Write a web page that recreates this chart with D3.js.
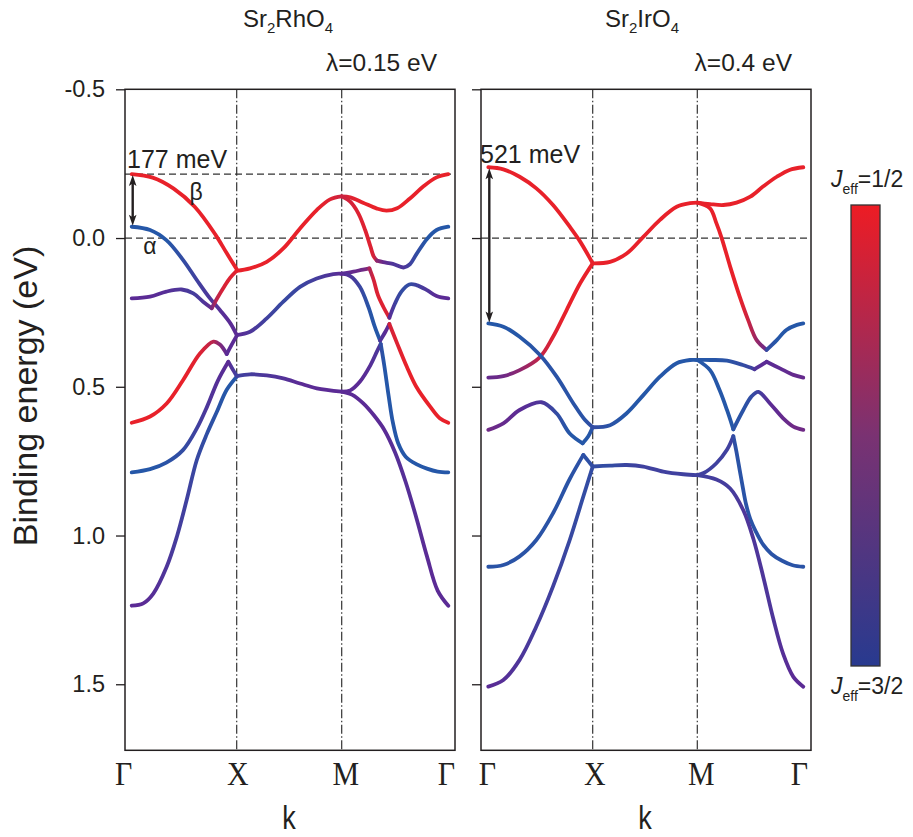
<!DOCTYPE html>
<html><head><meta charset="utf-8">
<script src="https://cdn.jsdelivr.net/npm/d3@7"></script>
<style>body{margin:0;background:#fff}</style>
</head><body><svg id="c" width="913" height="837"></svg>
<script>
// ================= DATA =================
// k path: Γ(0) → X(1) → M(2) → Γ(3); each point = [k, binding energy (eV), J_eff=1/2 weight]
const kPoints = [0, 1, 2, 3];
const kLabels = ["Γ", "X", "M", "Γ"];
const yTicks = [-0.5, 0.0, 0.5, 1.0, 1.5];

// ---- Sr2RhO4 (λ = 0.15 eV) ----
const rh1  = [[0,-0.215,1],[0.2,-0.203,1],[0.4,-0.166,1],[0.6,-0.105,1],[0.8,-0.01,1],[0.9,0.048,1],[1,0.105,1]];
const rh2  = [[0,-0.038,0.05],[0.175,-0.027,0.06],[0.33,0.007,0.1],[0.49,0.074,0.15],[0.62,0.141,0.2],[0.746,0.203,0.25],[0.84,0.242,0.28],[0.94,0.287,0.3],[1,0.326,0.3]];
const rh3  = [[0,0.203,0.3],[0.175,0.197,0.3],[0.33,0.18,0.28],[0.476,0.173,0.25],[0.587,0.186,0.22],[0.68,0.214,0.25],[0.762,0.236,0.35]];
const rh4  = [[0.762,0.236,0.45],[0.81,0.205,0.8],[0.873,0.168,0.92],[0.937,0.134,0.95],[1,0.11,0.95]];
const rh5a = [[0,0.621,1],[0.175,0.60,1],[0.333,0.556,1],[0.49,0.477,1],[0.65,0.388,0.95],[0.778,0.348,0.75],[0.84,0.358,0.5],[0.905,0.39,0.3]];
const rh5b = [[0.905,0.39,0.3],[0.95,0.36,0.3],[1,0.329,0.3]];
const rh6a = [[0,0.788,0.08],[0.175,0.777,0.1],[0.33,0.755,0.12],[0.49,0.712,0.15],[0.62,0.64,0.2],[0.72,0.565,0.25],[0.82,0.48,0.28],[0.92,0.416,0.3]];
const rh6b = [[0.92,0.416,0.3],[0.96,0.44,0.25],[1,0.464,0.2]];
const rh7  = [[0,1.236,0.3],[0.11,1.228,0.3],[0.206,1.195,0.28],[0.333,1.105,0.25],[0.43,1.004,0.22],[0.524,0.88,0.2],[0.62,0.746,0.17],[0.714,0.66,0.14],[0.81,0.585,0.12],[0.905,0.51,0.1],[1,0.466,0.1]];
const rh8  = [[1,0.11,1],[1.127,0.102,1],[1.286,0.08,1],[1.444,0.035,1],[1.603,-0.032,1],[1.762,-0.094,1],[1.889,-0.13,0.95],[2,-0.14,0.85]];
const rh9  = [[1,0.326,0.3],[1.127,0.315,0.25],[1.286,0.27,0.2],[1.444,0.214,0.17],[1.603,0.164,0.18],[1.762,0.136,0.22],[1.92,0.121,0.27],[2,0.12,0.3]];
const rh10 = [[1,0.464,0.2],[1.127,0.458,0.22],[1.286,0.462,0.25],[1.444,0.472,0.27],[1.603,0.489,0.3],[1.762,0.505,0.3],[2,0.516,0.3]];
const rh11 = [[2,-0.14,0.85],[2.08,-0.137,0.95],[2.2,-0.119,1],[2.33,-0.099,1],[2.42,-0.092,1],[2.52,-0.1,1],[2.64,-0.133,1],[2.77,-0.175,1],[2.89,-0.204,1],[3,-0.215,1]];
const rh12a= [[2,-0.14,0.85],[2.08,-0.122,0.9],[2.156,-0.083,0.95],[2.22,-0.027,0.95],[2.27,0.029,0.95],[2.30,0.062,0.9],[2.33,0.076,0.7]];
const rh12b= [[2.33,0.076,0.55],[2.39,0.081,0.35],[2.48,0.087,0.25],[2.58,0.099,0.25],[2.64,0.088,0.2],[2.70,0.055,0.15],[2.80,0.003,0.08],[2.89,-0.027,0.05],[3,-0.038,0.05]];
const rh13a= [[2,0.12,0.3],[2.11,0.113,0.35],[2.2,0.106,0.4],[2.26,0.102,0.55]];
const rh13b= [[2.26,0.102,0.7],[2.30,0.141,0.9],[2.34,0.192,0.95],[2.39,0.231,0.95],[2.447,0.268,0.9]];
const rh13c= [[2.447,0.268,0.3],[2.5,0.22,0.2],[2.56,0.18,0.15],[2.634,0.156,0.15],[2.70,0.158,0.2],[2.80,0.175,0.25],[2.89,0.195,0.3],[3,0.203,0.3]];
const rh14a= [[2,0.12,0.3],[2.08,0.128,0.25],[2.17,0.164,0.18],[2.25,0.231,0.12],[2.31,0.298,0.1],[2.36,0.345,0.1]];
const rh14b= [[2.36,0.345,0.25],[2.41,0.315,0.3],[2.447,0.289,0.35]];
const rh14c= [[2.447,0.289,0.9],[2.52,0.354,0.95],[2.61,0.432,1],[2.70,0.5,1],[2.83,0.567,1],[2.92,0.606,1],[3,0.621,1]];
const rh15a= [[2,0.516,0.3],[2.08,0.512,0.3],[2.17,0.483,0.3],[2.27,0.427,0.28],[2.33,0.382,0.25],[2.366,0.356,0.25]];
const rh15b= [[2.366,0.356,0.15],[2.40,0.43,0.1],[2.44,0.53,0.1],[2.48,0.62,0.1],[2.53,0.69,0.1],[2.6,0.735,0.1],[2.7,0.76,0.1],[2.8,0.775,0.08],[2.9,0.785,0.08],[3,0.788,0.08]];
const rh16 = [[2,0.516,0.3],[2.1,0.527,0.3],[2.2,0.555,0.3],[2.3,0.595,0.3],[2.4,0.645,0.3],[2.5,0.72,0.28],[2.6,0.82,0.28],[2.7,0.94,0.28],[2.8,1.07,0.3],[2.9,1.185,0.3],[3,1.236,0.3]];
const rhBands = [rh1,rh2,rh3,rh4,rh5a,rh5b,rh6a,rh6b,rh7,rh8,rh9,rh10,rh11,rh12a,rh12b,rh13a,rh13b,rh13c,rh14a,rh14b,rh14c,rh15a,rh15b,rh16];

// ---- Sr2IrO4 (λ = 0.4 eV) ----
const ir1  = [[0,-0.238,1],[0.144,-0.231,1],[0.30,-0.206,1],[0.46,-0.167,1],[0.62,-0.111,1],[0.78,-0.038,1],[0.88,0.012,1],[1,0.085,1]];
const ir2  = [[0,0.469,0.35],[0.144,0.464,0.4],[0.30,0.444,0.55],[0.495,0.40,0.8],[0.62,0.332,0.95],[0.75,0.242,1],[0.88,0.152,1],[1,0.085,1]];
const ir3  = [[0,0.287,0.1],[0.144,0.298,0.1],[0.30,0.332,0.1],[0.495,0.393,0.12],[0.655,0.466,0.12],[0.815,0.556,0.12],[0.927,0.612,0.12],[1,0.636,0.15]];
const ir4a = [[0,0.645,0.4],[0.144,0.623,0.35],[0.30,0.578,0.3],[0.51,0.552,0.25],[0.655,0.59,0.15],[0.78,0.657,0.1],[0.904,0.69,0.1]];
const ir4b = [[0.904,0.69,0.1],[0.958,0.666,0.1],[1,0.636,0.12]];
const ir5a = [[0,1.105,0.12],[0.144,1.099,0.12],[0.30,1.07,0.12],[0.46,1.015,0.12],[0.62,0.925,0.12],[0.78,0.81,0.12],[0.91,0.729,0.13]];
const ir5b = [[0.91,0.729,0.13],[0.958,0.75,0.13],[1,0.768,0.15]];
const ir6  = [[0,1.508,0.3],[0.144,1.486,0.28],[0.30,1.418,0.25],[0.46,1.306,0.22],[0.62,1.171,0.2],[0.78,1.015,0.17],[0.91,0.869,0.15],[1,0.768,0.15]];
const ir7  = [[1,0.085,1],[1.166,0.08,1],[1.325,0.052,1],[1.484,-0.004,1],[1.643,-0.061,1],[1.803,-0.105,1],[1.93,-0.117,1],[2,-0.119,1]];
const ir8  = [[1,0.636,0.15],[1.166,0.629,0.12],[1.325,0.589,0.1],[1.484,0.528,0.1],[1.643,0.466,0.1],[1.803,0.421,0.1],[1.93,0.41,0.1],[2,0.41,0.1]];
const ir9  = [[1,0.768,0.15],[1.166,0.765,0.15],[1.325,0.763,0.18],[1.484,0.768,0.2],[1.675,0.785,0.2],[1.866,0.794,0.2],[2,0.797,0.2]];
const ir10 = [[2,-0.119,1],[2.12,-0.114,1],[2.245,-0.111,1],[2.37,-0.119,1],[2.5,-0.139,1],[2.62,-0.173,1],[2.75,-0.206,1],[2.87,-0.229,1],[3,-0.238,1]];
const ir11a= [[2,-0.119,1],[2.12,-0.1,1],[2.18,-0.05,1],[2.23,0.0,1],[2.31,0.096,1],[2.40,0.197,1],[2.48,0.276,0.85],[2.56,0.343,0.6],[2.654,0.376,0.35]];
const ir11b= [[2.654,0.376,0.15],[2.75,0.343,0.1],[2.84,0.309,0.1],[2.94,0.292,0.1],[3,0.287,0.1]];
const ir12a= [[2,0.41,0.1],[2.12,0.41,0.1],[2.28,0.412,0.12],[2.43,0.427,0.15],[2.54,0.441,0.2]];
const ir12b= [[2.54,0.441,0.25],[2.6,0.428,0.3],[2.654,0.416,0.3]];
const ir12c= [[2.654,0.416,0.3],[2.78,0.438,0.32],[2.906,0.46,0.35],[3,0.469,0.35]];
const ir13a= [[2,0.41,0.1],[2.12,0.444,0.1],[2.21,0.511,0.1],[2.28,0.578,0.1],[2.34,0.643,0.1]];
const ir13b= [[2.34,0.643,0.12],[2.434,0.578,0.12],[2.51,0.533,0.15],[2.575,0.517,0.2],[2.686,0.556,0.3],[2.81,0.606,0.35],[2.906,0.634,0.4],[3,0.645,0.4]];
const ir14a= [[2,0.797,0.2],[2.06,0.79,0.2],[2.18,0.757,0.2],[2.28,0.712,0.2],[2.34,0.666,0.2]];
const ir14b= [[2.34,0.666,0.15],[2.37,0.72,0.12],[2.40,0.78,0.12],[2.43,0.84,0.12],[2.46,0.895,0.12],[2.5,0.945,0.12],[2.55,0.985,0.12],[2.62,1.03,0.12],[2.7,1.062,0.12],[2.8,1.085,0.12],[2.9,1.1,0.12],[3,1.105,0.12]];
const ir15 = [[2,0.797,0.2],[2.18,0.812,0.22],[2.31,0.842,0.22],[2.434,0.915,0.25],[2.528,1.01,0.25],[2.623,1.14,0.25],[2.717,1.28,0.25],[2.81,1.398,0.28],[2.906,1.475,0.3],[3,1.508,0.3]];
const irBands = [ir1,ir2,ir3,ir4a,ir4b,ir5a,ir5b,ir6,ir7,ir8,ir9,ir10,ir11a,ir11b,ir12a,ir12b,ir12c,ir13a,ir13b,ir14a,ir14b,ir15];

// annotations
const rhGap = [-0.215, -0.038];   // 177 meV
const irGap = [-0.238, 0.287];    // 521 meV
const rhGapLabel = "177 meV", irGapLabel = "521 meV";
const rhLambda = "λ=0.15 eV", irLambda = "λ=0.4 eV";

// ================= DRAW =================
const svg = d3.select("#c");
const FONT = "'Liberation Sans', Arial, sans-serif";
const INK = "#231f20";
const defs = svg.append("defs");

const y = d3.scaleLinear().domain([-0.5, 1.722]).range([89.3, 750.3]);
const col = d3.scaleLinear().domain([0.1, 0.3, 1]).range(["#2557a8", "#5b2b95", "#e8212a"]).clamp(true);

const panels = [
  {x0:125, x1:455, kr:[131.7,236.7,341.7,448.3], bands:rhBands, gap:rhGap, gapLabel:rhGapLabel,
   lambda:rhLambda, lambdaX:437, title:[["Sr",0],["2",1],["RhO",0],["4",1]], titleX:288, labels:true,
   topDash:true, labelNudge:[-8,1,4,-2], gapLabelX:127, gapLabelY:168},
  {x0:481, x1:811, kr:[488.3,592.7,697.3,803.3], bands:irBands, gap:irGap, gapLabel:irGapLabel,
   lambda:irLambda, lambdaX:792, title:[["Sr",0],["2",1],["IrO",0],["4",1]], titleX:642, labels:false,
   topDash:false, labelNudge:[-1,2,4,-4], gapLabelX:480, gapLabelY:163}
];

panels.forEach((p, pi) => {
  const x = d3.scaleLinear().domain(kPoints).range(p.kr);
  const g = svg.append("g");

  // horizontal dashed reference lines
  g.append("line").attr("x1", p.x0).attr("x2", p.x1).attr("y1", y(0)).attr("y2", y(0))
    .attr("stroke", "#333").attr("stroke-width", 1.3).attr("stroke-dasharray", "7,4");
  if (p.topDash) {
    g.append("line").attr("x1", p.x0).attr("x2", p.x1).attr("y1", y(p.gap[0])).attr("y2", y(p.gap[0]))
      .attr("stroke", "#333").attr("stroke-width", 1.3).attr("stroke-dasharray", "7,4");
  }
  // vertical dash-dot lines at X and M
  [1, 2].forEach(k => {
    g.append("line").attr("x1", x(k)).attr("x2", x(k)).attr("y1", y.range()[0]).attr("y2", y.range()[1])
      .attr("stroke", "#333").attr("stroke-width", 1.2).attr("stroke-dasharray", "9,2.5,1.5,2.5");
  });

  // bands
  const line = d3.line().x(d => x(d[0])).y(d => y(d[1])).curve(d3.curveCatmullRom.alpha(0.5));
  p.bands.forEach((b, bi) => {
    const id = `g${pi}_${bi}`;
    const xa = x(b[0][0]), xb = x(b[b.length-1][0]);
    const grad = defs.append("linearGradient").attr("id", id).attr("gradientUnits", "userSpaceOnUse")
      .attr("x1", xa).attr("x2", xb).attr("y1", 0).attr("y2", 0);
    b.forEach(d => grad.append("stop").attr("offset", (x(d[0]) - xa) / (xb - xa)).attr("stop-color", col(d[2])));
    g.append("path").attr("d", line(b)).attr("fill", "none").attr("stroke", `url(#${id})`)
      .attr("stroke-width", 3.8).attr("stroke-linecap", "round").attr("stroke-linejoin", "round");
  });

  // frame
  g.append("rect").attr("x", p.x0).attr("y", y.range()[0]).attr("width", p.x1 - p.x0)
    .attr("height", y.range()[1] - y.range()[0]).attr("fill", "none").attr("stroke", INK).attr("stroke-width", 1.5);

  // y axis ticks
  const ax = g.append("g").attr("transform", `translate(${p.x0},0)`)
    .call(d3.axisLeft(y).tickValues(yTicks).tickSize(9).tickPadding(11)
      .tickFormat(d => p.labels ? d.toFixed(1) : ""));
  ax.select(".domain").remove();
  ax.selectAll(".tick line").attr("stroke", INK).attr("stroke-width", 1.3);
  ax.selectAll(".tick text").attr("font-family", FONT).attr("font-size", 23.5).attr("fill", INK);

  // x labels
  kPoints.forEach((k, i) => {
    g.append("text").attr("transform", `translate(${x(k) + p.labelNudge[i]},785) scale(0.88,1)`)
      .attr("text-anchor", "middle").attr("font-family", "'Liberation Serif', 'Times New Roman', serif")
      .attr("font-size", 34).attr("fill", INK).text(kLabels[i]);
  });
  g.append("text").attr("transform", `translate(${(p.x0 + p.x1) / 2 - 1},829) scale(0.82,1)`)
    .attr("text-anchor", "middle").attr("font-family", FONT).attr("font-size", 33).attr("fill", INK).text("k");

  // title
  const t = g.append("text").attr("x", p.titleX).attr("y", 27).attr("text-anchor", "middle")
    .attr("font-family", FONT).attr("font-size", 24).attr("fill", INK);
  let prevSub = 0;
  p.title.forEach(([s, sub]) => {
    t.append("tspan").attr("dy", sub === prevSub ? 0 : (sub ? 6 : -6))
      .attr("font-size", sub ? 15 : 24).text(s);
    prevSub = sub;
  });
  g.append("text").attr("x", p.lambdaX).attr("y", 71).attr("text-anchor", "end")
    .attr("font-family", FONT).attr("font-size", 24.5).attr("fill", INK).text(p.lambda);

  // gap annotation: double arrow + label
  const ax0 = x(0) + 1, yt = y(p.gap[0]) + 1, yb = y(p.gap[1]) - 1;
  g.append("line").attr("x1", ax0).attr("x2", ax0).attr("y1", yt + 6).attr("y2", yb - 6)
    .attr("stroke", INK).attr("stroke-width", 2.4);
  g.append("path").attr("d", `M${ax0},${yt} L${ax0-3.8},${yt+11} L${ax0},${yt+8.5} L${ax0+3.8},${yt+11} Z`).attr("fill", INK);
  g.append("path").attr("d", `M${ax0},${yb} L${ax0-3.8},${yb-11} L${ax0},${yb-8.5} L${ax0+3.8},${yb-11} Z`).attr("fill", INK);
  g.append("text").attr("x", p.gapLabelX).attr("y", p.gapLabelY).attr("font-family", FONT)
    .attr("font-size", 25).attr("fill", INK).text(p.gapLabel);
});

// α / β labels (Sr2RhO4)
svg.append("text").attr("x", 196).attr("y", 200).attr("text-anchor", "middle").attr("font-family", FONT)
  .attr("font-size", 23).attr("fill", INK).text("β");
svg.append("text").attr("x", 150).attr("y", 254).attr("text-anchor", "middle").attr("font-family", FONT)
  .attr("font-size", 23).attr("fill", INK).text("α");

// y axis title
svg.append("text").attr("transform", "translate(37,396) rotate(-90)").attr("text-anchor", "middle")
  .attr("font-family", FONT).attr("font-size", 34).attr("fill", INK).text("Binding energy (eV)");

// colour bar
const cb = defs.append("linearGradient").attr("id", "cbar").attr("x1", 0).attr("x2", 0).attr("y1", 0).attr("y2", 1);
[["0", "#ed1c24"], ["0.5", "#7a3272"], ["1", "#283a8f"]].forEach(([o, c]) => cb.append("stop").attr("offset", o).attr("stop-color", c));
svg.append("rect").attr("x", 851).attr("y", 205).attr("width", 29).attr("height", 461)
  .attr("fill", "url(#cbar)").attr("stroke", "#333").attr("stroke-width", 1.3);
function jeff(yb, val) {
  const t = svg.append("text").attr("x", 831).attr("y", yb).attr("font-family", FONT).attr("font-size", 23).attr("fill", INK);
  t.append("tspan").attr("font-style", "italic").text("J");
  t.append("tspan").attr("dy", 7).attr("font-size", 14).text("eff");
  t.append("tspan").attr("dy", -7).text("=" + val);
}
jeff(187, "1/2");
jeff(694, "3/2");
</script></body></html>
